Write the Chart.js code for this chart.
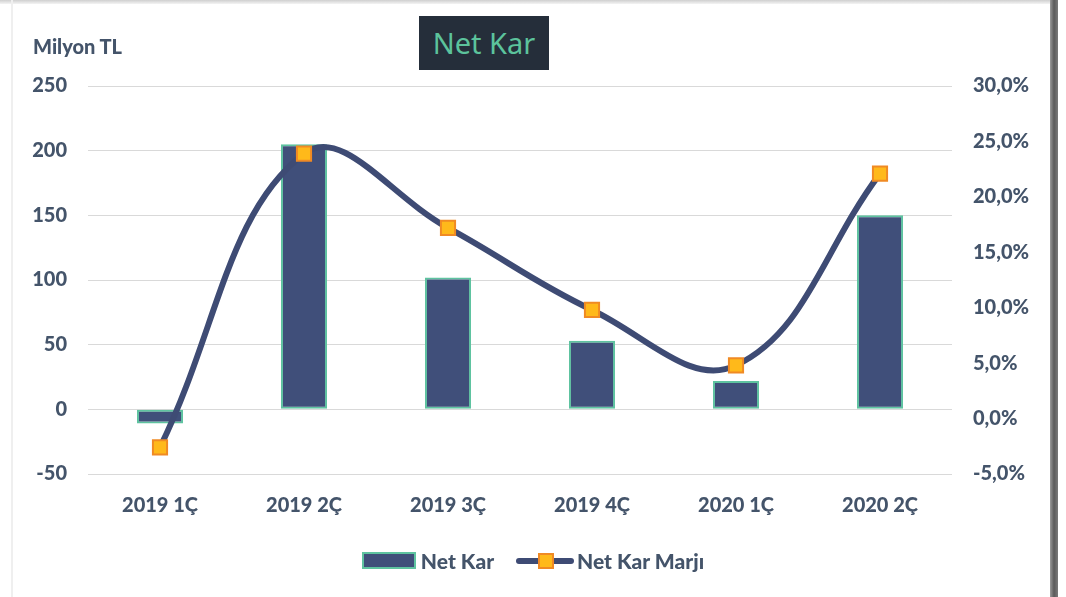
<!DOCTYPE html>
<html>
<head>
<meta charset="utf-8">
<script src="https://cdn.jsdelivr.net/npm/chart.js@4/dist/chart.umd.min.js"></script>
<style>
    html, body { margin: 0; padding: 0; background: #fff; }
    body { width: 1066px; height: 597px; position: relative; overflow: hidden; font-family: Lato, sans-serif; }
    #wrap { position: absolute; left: 0; top: 0; width: 1066px; height: 597px; }
    .topEdge { position: absolute; left: 0; top: 0; width: 1052px; height: 4px; background: linear-gradient(#cfcfcf, #f4f4f4); }
    .leftEdge { position: absolute; left: 11px; top: 0; width: 2px; height: 597px; background: #efefef; }
    .rightEdge { position: absolute; left: 1050px; top: 0; width: 8px; height: 597px; background: linear-gradient(90deg, #9a9a9a, #5a5a5a, #7a7a7a); }
    .title { position: absolute; left: 419px; top: 16px; width: 130px; height: 54px; background: #252e3a; color: #5cc39c; font-family: 'Noto Sans', sans-serif; font-size: 29px; line-height: 54px; text-align: center; }
    .unit { position: absolute; left: 33px; top: 34px; color: #44546a; font-weight: 900; font-size: 20px; }
    #legend { position: absolute; left: 0; top: 545px; width: 1066px; text-align: center; color: #44546a; font-weight: 900; font-size: 21px; }
    .item { display: inline-flex; align-items: center; margin: 0 11px; vertical-align: middle; }
    .box { display: inline-block; width: 50px; height: 13px; border: 2px solid #5ec3a0; margin-right: 5px; }
    .lineKey { position: relative; display: inline-block; width: 58px; height: 6px; border-radius: 3px; margin-right: 3px; }
    .lineKey span { position: absolute; left: 22px; top: -5px; width: 12px; height: 12px; border: 2px solid #f08a24; background: #ffb91a; }
</style>
</head>
<body>
<div id="wrap"><canvas id="netKarChart" width="1066" height="597"></canvas></div>
<div class="topEdge"></div>
<div class="leftEdge"></div>
<div class="rightEdge"></div>
<div class="title">Net Kar</div>
<div class="unit">Milyon TL</div>
<div id="legend"></div>

<script>
// Chart data
const quarters = ['2019 1Ç', '2019 2Ç', '2019 3Ç', '2019 4Ç', '2020 1Ç', '2020 2Ç'];
const netKar = [-11, 205, 102, 53, 22, 150];
const netKarMarji = [-2.6, 23.9, 17.2, 9.8, 4.8, 22.1];
const leftTicks = [-50, 0, 50, 100, 150, 200, 250];
const rightTicks = [-5, 0, 5, 10, 15, 20, 25, 30];

const textColor = '#44546a';
const barColor = '#404f7a';
const barBorder = '#5ec3a0';
const lineColor = '#3e4b74';

document.addEventListener('DOMContentLoaded', function () {
    const ctx = document.getElementById('netKarChart');
    const tickFont = { family: 'Lato, sans-serif', size: 20, weight: '900' };

    const chart = new Chart(ctx, {
        type: 'bar',
        data: {
            labels: quarters,
            datasets: [{
                type: 'line',
                label: 'Net Kar Marjı',
                data: netKarMarji,
                yAxisID: 'y1',
                borderColor: lineColor,
                borderWidth: 6,
                tension: 0.4,
                pointStyle: 'rect',
                pointRadius: 10,
                pointBackgroundColor: '#ffb91a',
                pointBorderColor: '#f08a24',
                pointBorderWidth: 2,
                order: 0
            }, {
                label: 'Net Kar',
                data: netKar,
                yAxisID: 'y',
                backgroundColor: barColor,
                borderColor: barBorder,
                borderWidth: 2,
                borderSkipped: false,
                barPercentage: 0.32,
                categoryPercentage: 1,
                order: 1
            }]
        },
        options: {
            responsive: false,
            animation: false,
            layout: {
                padding: { left: 0, right: 14, top: 86, bottom: 63 }
            },
            plugins: {
                legend: { display: false },
                tooltip: { enabled: false }
            },
            scales: {
                x: {
                    grid: { display: false, drawTicks: false },
                    border: { display: false },
                    ticks: { color: textColor, font: tickFont, padding: 20 },
                    afterFit: function (axis) { axis.height = 60; }
                },
                y: {
                    position: 'left',
                    min: -50,
                    max: 250,
                    afterBuildTicks: function (axis) {
                        axis.ticks = leftTicks.map(function (v) { return { value: v }; });
                    },
                    grid: { color: '#d9d9d9', lineWidth: 1, drawTicks: false },
                    border: { display: false },
                    ticks: { color: textColor, font: tickFont, padding: 21 },
                    afterFit: function (axis) { axis.width = 88; }
                },
                y1: {
                    position: 'right',
                    min: -5,
                    max: 30,
                    afterBuildTicks: function (axis) {
                        axis.ticks = rightTicks.map(function (v) { return { value: v }; });
                    },
                    grid: { display: false, drawTicks: false },
                    border: { display: false },
                    ticks: {
                        color: textColor,
                        font: tickFont,
                        padding: 21,
                        callback: function (value) {
                            return value.toFixed(1).replace('.', ',') + '%';
                        }
                    },
                    afterFit: function (axis) { axis.width = 100; }
                }
            }
        }
    });

    // Legend built from the datasets
    const legend = document.getElementById('legend');
    const bars = chart.data.datasets[1];
    const line = chart.data.datasets[0];
    legend.innerHTML =
        '<span class="item"><span class="box" style="background:' + bars.backgroundColor + '"></span>' + bars.label + '</span>' +
        '<span class="item"><span class="lineKey" style="background:' + line.borderColor + '"><span></span></span>' + line.label + '</span>';
});
</script>
</body>
</html>
